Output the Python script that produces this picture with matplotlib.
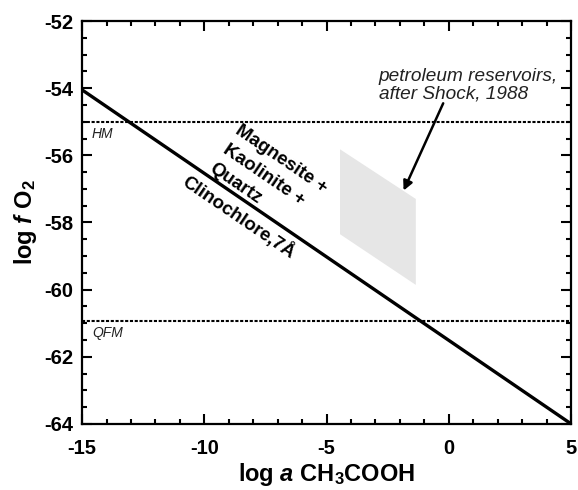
import matplotlib
matplotlib.use('Agg')
import matplotlib.pyplot as plt
from matplotlib.ticker import MultipleLocator

plt.rcParams['font.family'] = 'Liberation Sans'
plt.rcParams['axes.unicode_minus'] = False
plt.rcParams['mathtext.fontset'] = 'custom'
plt.rcParams['mathtext.rm'] = 'Liberation Sans:weight=bold'
plt.rcParams['mathtext.it'] = 'Liberation Sans:style=italic:weight=bold'
plt.rcParams['mathtext.bf'] = 'Liberation Sans:weight=bold'

# equilibrium line: log fO2 vs log a CH3COOH
line_x = [-15, 5]
line_y = [-54.05, -64.0]

# buffers
buffer_names = ['HM', 'QFM']
buffer_y = [-55.0, -60.95]

# petroleum reservoir field (Shock, 1988)
field_x = [-4.45, -1.35, -1.35, -4.45]
field_y = [-55.82, -57.3, -59.86, -58.35]

fig = plt.figure(figsize=(5.78, 4.9), dpi=100)
ax = fig.add_axes([0.142, 0.135, 0.846, 0.822])

ax.fill(field_x, field_y, color='#e6e6e6', lw=0)

for name, yb in zip(buffer_names, buffer_y):
    ax.axhline(yb, color='black', lw=1.5, ls=(0, (1.5, 0.8)))
    ax.text(-14.6, yb - 0.35, name, fontsize=10, style='italic',
            color='#222222', ha='left', va='center')

ax.plot(line_x, line_y, color='black', lw=2.4, solid_capstyle='butt')

ax.set_xlim(-15, 5)
ax.set_ylim(-64, -52)

# assemblage labels along the line
rot = -34.3
lab_kw = dict(fontsize=13.5, fontweight='bold', rotation=rot,
              rotation_mode='anchor', ha='center', va='center')
ax.text(-6.85, -56.12, 'Magnesite +', **lab_kw)
ax.text(-7.55, -56.58, 'Kaolinite +', **lab_kw)
ax.text(-8.72, -56.85, 'Quartz', **lab_kw)
ax.text(-8.6, -57.84, 'Clinochlore,7Å', **lab_kw)

ax.annotate('', xy=(-1.85, -57.05), xytext=(-0.23, -54.45),
            arrowprops=dict(arrowstyle='-|>', color='black', lw=1.8,
                            mutation_scale=14, shrinkA=0, shrinkB=0))
ax.text(-2.86, -53.9, 'petroleum reservoirs,\nafter Shock, 1988',
        fontsize=13.7, style='italic', color='#222222', ha='left',
        va='center', linespacing=1.05)

ax.xaxis.set_major_locator(MultipleLocator(5))
ax.xaxis.set_minor_locator(MultipleLocator(1))
ax.yaxis.set_major_locator(MultipleLocator(2))
ax.yaxis.set_minor_locator(MultipleLocator(0.5))
ax.tick_params(which='both', direction='in', top=True, right=True, width=1.5)
ax.tick_params(which='major', length=7)
ax.tick_params(which='minor', length=3.5)
ax.tick_params(axis='x', pad=11)
ax.tick_params(axis='y', pad=6)
for lab in ax.get_xticklabels() + ax.get_yticklabels():
    lab.set_fontsize(14.5)
    lab.set_fontweight('bold')
for sp in ax.spines.values():
    sp.set_linewidth(1.6)

ax.set_xlabel(r'log $a$ CH$_3$COOH', fontsize=17, fontweight='bold', labelpad=2)
ax.set_ylabel(r'log $f$ O$_2$', fontsize=17, fontweight='bold', labelpad=4)

fig.savefig('out.png', dpi=100)
